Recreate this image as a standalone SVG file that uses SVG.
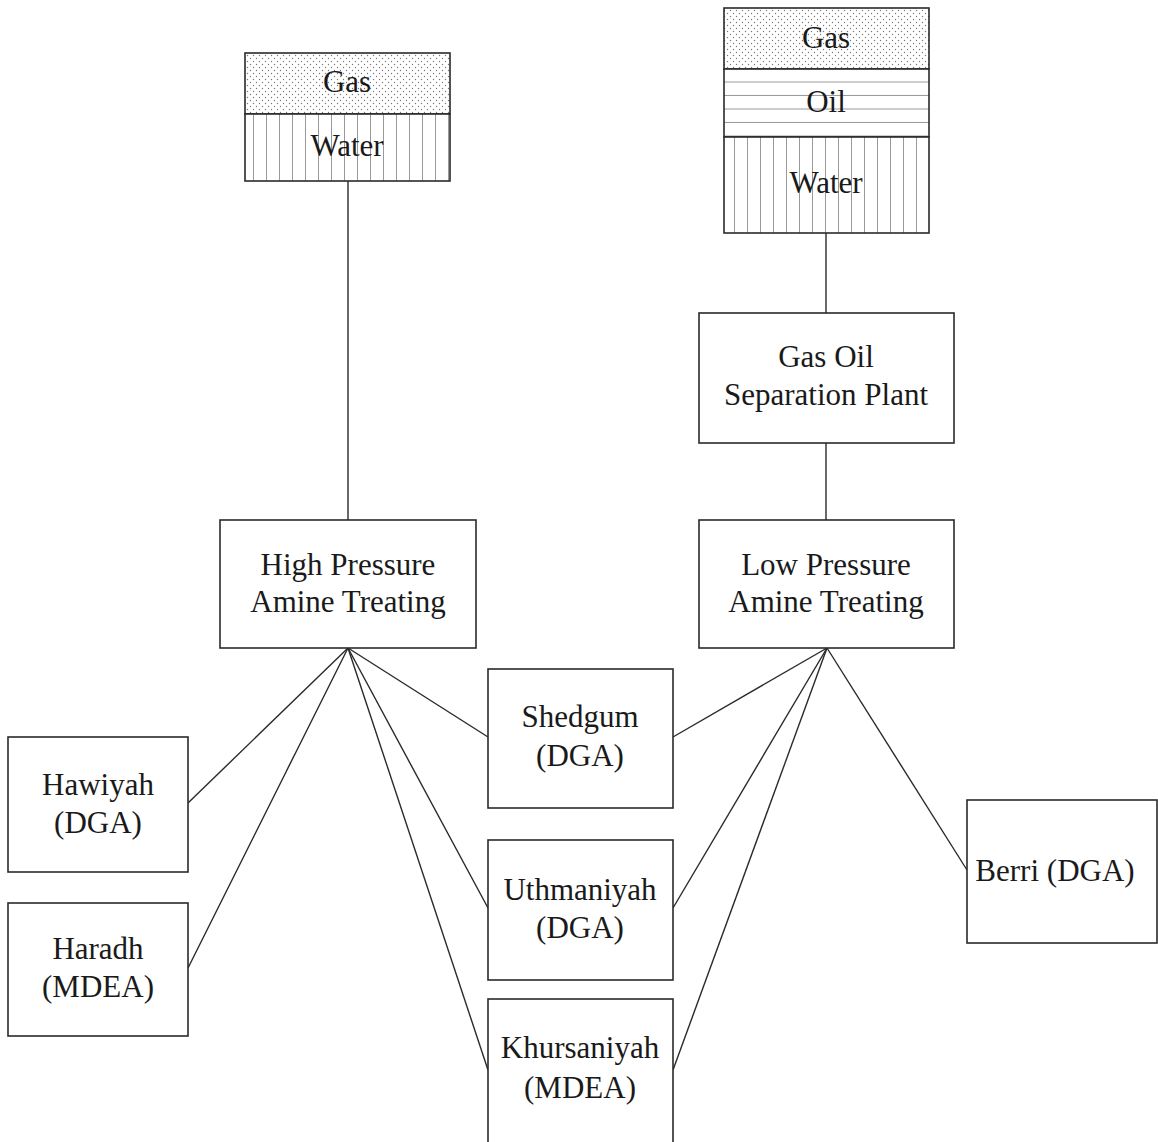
<svg xmlns="http://www.w3.org/2000/svg" width="1158" height="1142" viewBox="0 0 1158 1142">
<style>
.box{fill:#fff;stroke:#2a2a2a;stroke-width:1.6}
.edge{stroke:#2a2a2a;stroke-width:1.4;fill:none}
.t{font-family:"Liberation Serif","Times New Roman",serif;font-size:31px;fill:#1a1a1a;text-anchor:middle}
</style>
<defs>
<pattern id="dots" width="6" height="6" patternUnits="userSpaceOnUse">
<rect width="6" height="6" fill="#fff"/>
<circle cx="1.5" cy="1.5" r="0.7" fill="#777"/>
<circle cx="4.5" cy="4.5" r="0.7" fill="#777"/>
</pattern>
<pattern id="vlines" width="13" height="10" patternUnits="userSpaceOnUse">
<rect width="13" height="10" fill="#fff"/>
<line x1="6.5" y1="0" x2="6.5" y2="10" stroke="#999" stroke-width="1"/>
</pattern>
<pattern id="hlines" width="10" height="13.5" patternUnits="userSpaceOnUse" y="69">
<rect width="10" height="13.5" fill="#fff"/>
<line x1="0" y1="13" x2="10" y2="13" stroke="#999" stroke-width="1"/>
</pattern>
</defs>
<rect width="1158" height="1142" fill="#fff"/>
<g id="connectors">
<line class="edge" x1="348" y1="181" x2="348" y2="520"/>
<line class="edge" x1="826" y1="233" x2="826" y2="313"/>
<line class="edge" x1="826" y1="443" x2="826" y2="520"/>
<line class="edge" x1="348" y1="648" x2="188" y2="803"/>
<line class="edge" x1="348" y1="648" x2="188" y2="968"/>
<line class="edge" x1="348" y1="648" x2="488" y2="737"/>
<line class="edge" x1="348" y1="648" x2="488" y2="908"/>
<line class="edge" x1="348" y1="648" x2="488" y2="1070"/>
<line class="edge" x1="827" y1="648" x2="673" y2="737"/>
<line class="edge" x1="827" y1="648" x2="673" y2="908"/>
<line class="edge" x1="827" y1="648" x2="673" y2="1070"/>
<line class="edge" x1="827" y1="648" x2="967" y2="870"/>
</g>
<g id="tank-left">
<rect x="245" y="53" width="205" height="61" fill="url(#dots)" stroke="#2a2a2a" stroke-width="1.6"/>
<rect x="245" y="114" width="205" height="67" fill="url(#vlines)" stroke="#2a2a2a" stroke-width="1.6"/>
<text class="t" x="347" y="92">Gas</text>
<text class="t" x="347" y="156">Water</text>
</g>
<g id="tank-right">
<rect x="724" y="8" width="205" height="61" fill="url(#dots)" stroke="#2a2a2a" stroke-width="1.6"/>
<rect x="724" y="69" width="205" height="68" fill="url(#hlines)" stroke="#2a2a2a" stroke-width="1.6"/>
<rect x="724" y="137" width="205" height="96" fill="url(#vlines)" stroke="#2a2a2a" stroke-width="1.6"/>
<text class="t" x="826" y="48">Gas</text>
<text class="t" x="826" y="112">Oil</text>
<text class="t" x="826" y="193">Water</text>
</g>
<g id="gosp">
<rect class="box" x="699" y="313" width="255" height="130"/>
<text class="t" x="826" y="367">Gas Oil</text>
<text class="t" x="826" y="405">Separation Plant</text>
</g>
<g id="hp">
<rect class="box" x="220" y="520" width="256" height="128"/>
<text class="t" x="348" y="575">High Pressure</text>
<text class="t" x="348" y="612">Amine Treating</text>
</g>
<g id="lp">
<rect class="box" x="699" y="520" width="255" height="128"/>
<text class="t" x="826" y="575">Low Pressure</text>
<text class="t" x="826" y="612">Amine Treating</text>
</g>
<g id="hawiyah">
<rect class="box" x="8" y="737" width="180" height="135"/>
<text class="t" x="98" y="795">Hawiyah</text>
<text class="t" x="98" y="833">(DGA)</text>
</g>
<g id="haradh">
<rect class="box" x="8" y="903" width="180" height="133"/>
<text class="t" x="98" y="959">Haradh</text>
<text class="t" x="98" y="997">(MDEA)</text>
</g>
<g id="shedgum">
<rect class="box" x="488" y="669" width="185" height="139"/>
<text class="t" x="580" y="727">Shedgum</text>
<text class="t" x="580" y="766">(DGA)</text>
</g>
<g id="uthmaniyah">
<rect class="box" x="488" y="840" width="185" height="140"/>
<text class="t" x="580" y="900">Uthmaniyah</text>
<text class="t" x="580" y="938">(DGA)</text>
</g>
<g id="khursaniyah">
<rect class="box" x="488" y="999" width="185" height="160"/>
<text class="t" x="580" y="1058">Khursaniyah</text>
<text class="t" x="580" y="1098">(MDEA)</text>
</g>
<g id="berri">
<rect class="box" x="967" y="800" width="190" height="143"/>
<text class="t" x="1055" y="881">Berri (DGA)</text>
</g>
</svg>
